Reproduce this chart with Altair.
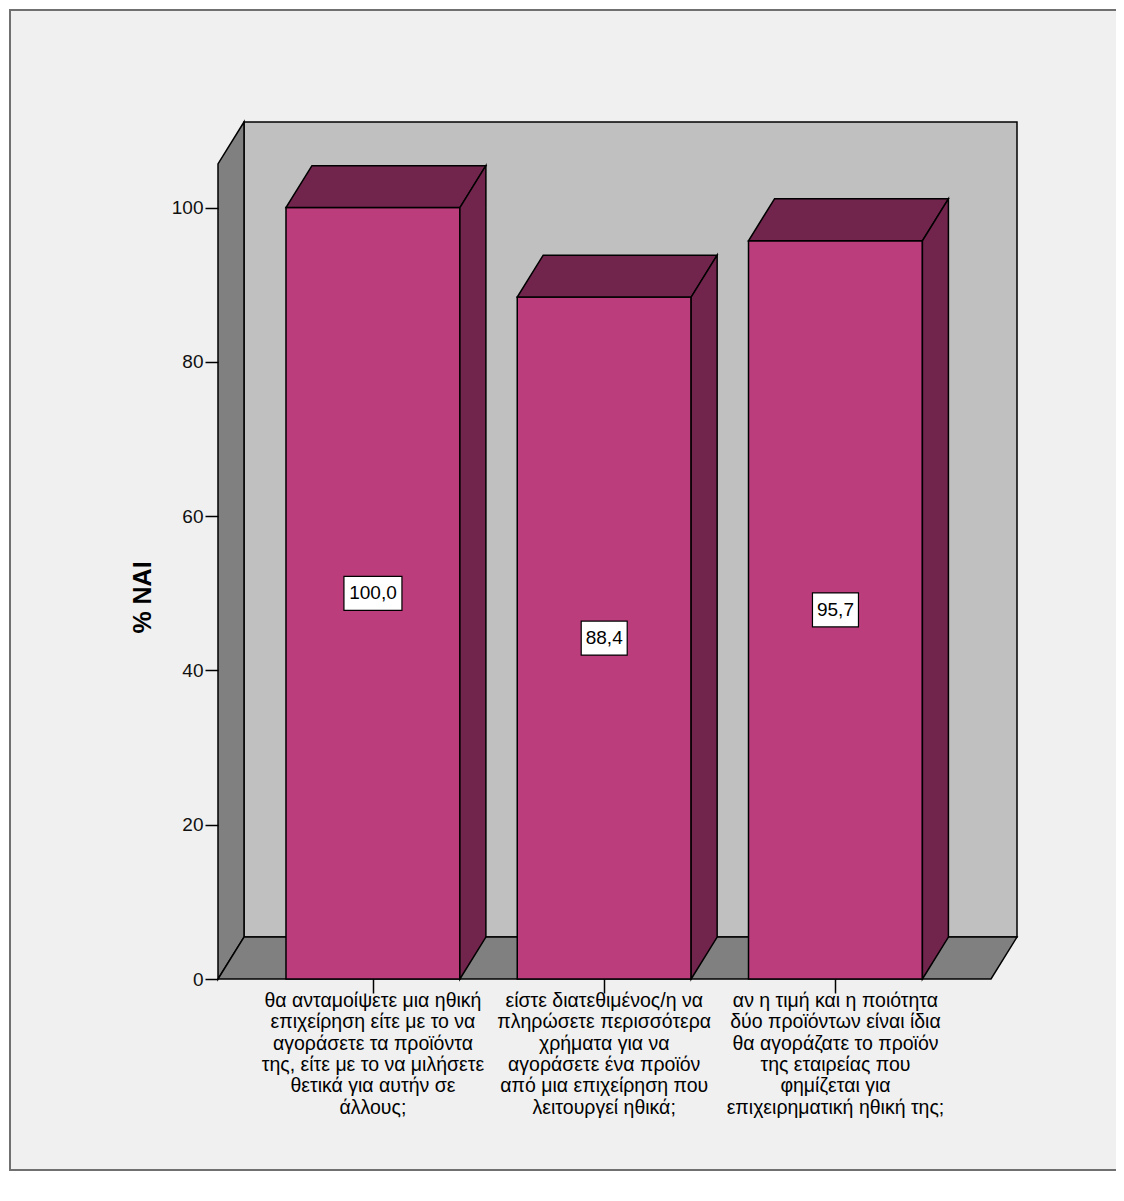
import altair as alt
import pandas as pd

# ---------------- data ----------------
categories = [
    "θα ανταμοίψετε μια ηθική\nεπιχείρηση είτε με το να\nαγοράσετε τα προϊόντα\nτης, είτε με το να μιλήσετε\nθετικά για αυτήν σε\nάλλους;",
    "είστε διατεθιμένος/η  να\nπληρώσετε περισσότερα\nχρήματα  για να\nαγοράσετε ένα προϊόν\nαπό μια επιχείρηση που\nλειτουργεί ηθικά;",
    "αν η τιμή και η ποιότητα\nδύο προϊόντων είναι ίδια\nθα αγοράζατε το προϊόν\nτης εταιρείας που\nφημίζεται για\nεπιχειρηματική ηθική της;",
]
values = [100.0, 88.4, 95.7]
y_ticks = [0, 20, 40, 60, 80, 100]
y_title = "% NAI"

# ---------------- style / geometry ----------------
FONT = "Liberation Sans, Arial, sans-serif"
W, H = 799, 857
X_MIN, X_MAX = -0.670, 2.785
Y_MAX = 111.1
HALF = 0.376          # half bar width in category units
DX, DY = 0.1124, 5.44  # 3D depth offset (x units, y units)
PX_PER_X = W / (X_MAX - X_MIN)
PX_PER_Y = H / Y_MAX

FRONT = "#BB3D7C"
DARK = "#71254C"
WALL = "#C0C0C0"
SIDE = "#808080"
BG = "#F0F0F0"

xs = alt.Scale(domain=[X_MIN, X_MAX], nice=False, zero=False)
ys = alt.Scale(domain=[0, Y_MAX], nice=False, zero=False)
x_axis = alt.Axis(values=[0, 1, 2], labels=False, title=None, grid=False,
                  domain=False, tickSize=14, tickColor="black", tickWidth=1.5,
                  zindex=2)
y_axis = alt.Axis(values=y_ticks, title=y_title, grid=False, domain=False,
                  tickSize=13, tickColor="black", tickWidth=1.5,
                  labelFont=FONT, labelFontSize=19, labelColor="#111111", labelPadding=2,
                  titleFont=FONT, titleFontSize=25, titleFontWeight="bold",
                  titleColor="black", titleAngle=-90, titleX=-76, titleY=475,
                  titleAlign="center", titleBaseline="middle", zindex=2)


def X(f):
    return alt.X(f, type="quantitative", scale=xs, axis=x_axis)


def Y(f):
    return alt.Y(f, type="quantitative", scale=ys, axis=y_axis)


# ---------------- derived tables ----------------
idx = list(range(len(values)))
labels = [f"{v:.1f}".replace(".", ",") for v in values]

back_wall = pd.DataFrame([{"x": X_MIN + DX, "x2": X_MAX, "y": DY, "y2": Y_MAX}])

left_wall = pd.DataFrame([
    {"poly": "lw", "x": X_MIN, "y": 0, "y2": Y_MAX - DY},
    {"poly": "lw", "x": X_MIN + DX, "y": DY, "y2": Y_MAX},
])

floor = pd.DataFrame([
    {"poly": "fl", "y": 0, "x": X_MIN, "x2": X_MAX - DX},
    {"poly": "fl", "y": DY, "x": X_MIN + DX, "x2": X_MAX},
])

fronts = pd.DataFrame({"x": [i - HALF for i in idx], "x2": [i + HALF for i in idx],
                       "y": [0] * len(idx), "y2": values})

tops_rows, sides_rows = [], []
for i, v in zip(idx, values):
    tops_rows.append({"poly": f"t{i}", "y": v, "x": i - HALF, "x2": i + HALF})
    tops_rows.append({"poly": f"t{i}", "y": v + DY, "x": i - HALF + DX, "x2": i + HALF + DX})
    sides_rows.append({"poly": f"s{i}", "x": i + HALF, "y": 0, "y2": v})
    sides_rows.append({"poly": f"s{i}", "x": i + HALF + DX, "y": DY, "y2": v + DY})
tops = pd.DataFrame(tops_rows)
sides = pd.DataFrame(sides_rows)

box_rows = []
for i, v, lab in zip(idx, values, labels):
    hw = (12 * len(lab) - 2) / 2 / PX_PER_X
    hh = 17 / PX_PER_Y
    box_rows.append({"x": i - hw, "x2": i + hw, "y": v / 2 - hh, "y2": v / 2 + hh,
                     "cx": i, "cy": v / 2, "label": lab})
boxes = pd.DataFrame(box_rows)

cats = pd.DataFrame({"x": idx, "y": [0] * len(idx), "cat": categories})

# ---------------- layers ----------------
frame = alt.Chart(alt.Data(values=[{}])).mark_rect(
    fill=BG, stroke="#707070", strokeWidth=2
).encode(x=alt.value(-208), x2=alt.value(902), y=alt.value(-112), y2=alt.value(1048))

wall_l = alt.Chart(back_wall).mark_rect(fill=WALL, stroke="black", strokeWidth=1.5).encode(
    x=X("x"), x2="x2", y=Y("y"), y2="y2")

lw_l = alt.Chart(left_wall).mark_area(orient="vertical", fill=SIDE, fillOpacity=1,
                                      stroke="black", strokeWidth=1.5).encode(
    x=X("x"), y=Y("y"), y2="y2", detail="poly:N")

floor_l = alt.Chart(floor).mark_area(orient="horizontal", fill=SIDE, fillOpacity=1,
                                     stroke="black", strokeWidth=1.5).encode(
    y=Y("y"), x=X("x"), x2="x2", detail="poly:N")

front_l = alt.Chart(fronts).mark_rect(fill=FRONT, stroke="black", strokeWidth=1.5).encode(
    x=X("x"), x2="x2", y=Y("y"), y2="y2")

tops_l = alt.Chart(tops).mark_area(orient="horizontal", fill=DARK, fillOpacity=1,
                                   stroke="black", strokeWidth=1.5).encode(
    y=Y("y"), x=X("x"), x2="x2", detail="poly:N")

sides_l = alt.Chart(sides).mark_area(orient="vertical", fill=DARK, fillOpacity=1,
                                     stroke="black", strokeWidth=1.5).encode(
    x=X("x"), y=Y("y"), y2="y2", detail="poly:N")

box_l = alt.Chart(boxes).mark_rect(fill="white", stroke="black", strokeWidth=1.2).encode(
    x=X("x"), x2="x2", y=Y("y"), y2="y2")

val_l = alt.Chart(boxes).mark_text(font=FONT, fontSize=19, color="black",
                                   align="center", baseline="middle").encode(
    x=X("cx"), y=Y("cy"), text="label:N")

cat_l = alt.Chart(cats).mark_text(font=FONT, fontSize=19.5, color="black", align="center",
                                  baseline="top", dy=13, lineBreak="\n",
                                  lineHeight=21.3).encode(
    x=X("x"), y=Y("y"), text="cat:N")

chart = alt.layer(frame, wall_l, lw_l, floor_l, front_l, tops_l, sides_l,
                  box_l, val_l, cat_l).properties(
    width=W, height=H,
    autosize=alt.AutoSizeParams(type="none"),
    padding={"left": 210, "top": 114, "right": 99, "bottom": 214},
    background="white",
).configure_view(stroke="transparent")

chart.save("out.html", embed_options={"renderer": "svg", "actions": False})
